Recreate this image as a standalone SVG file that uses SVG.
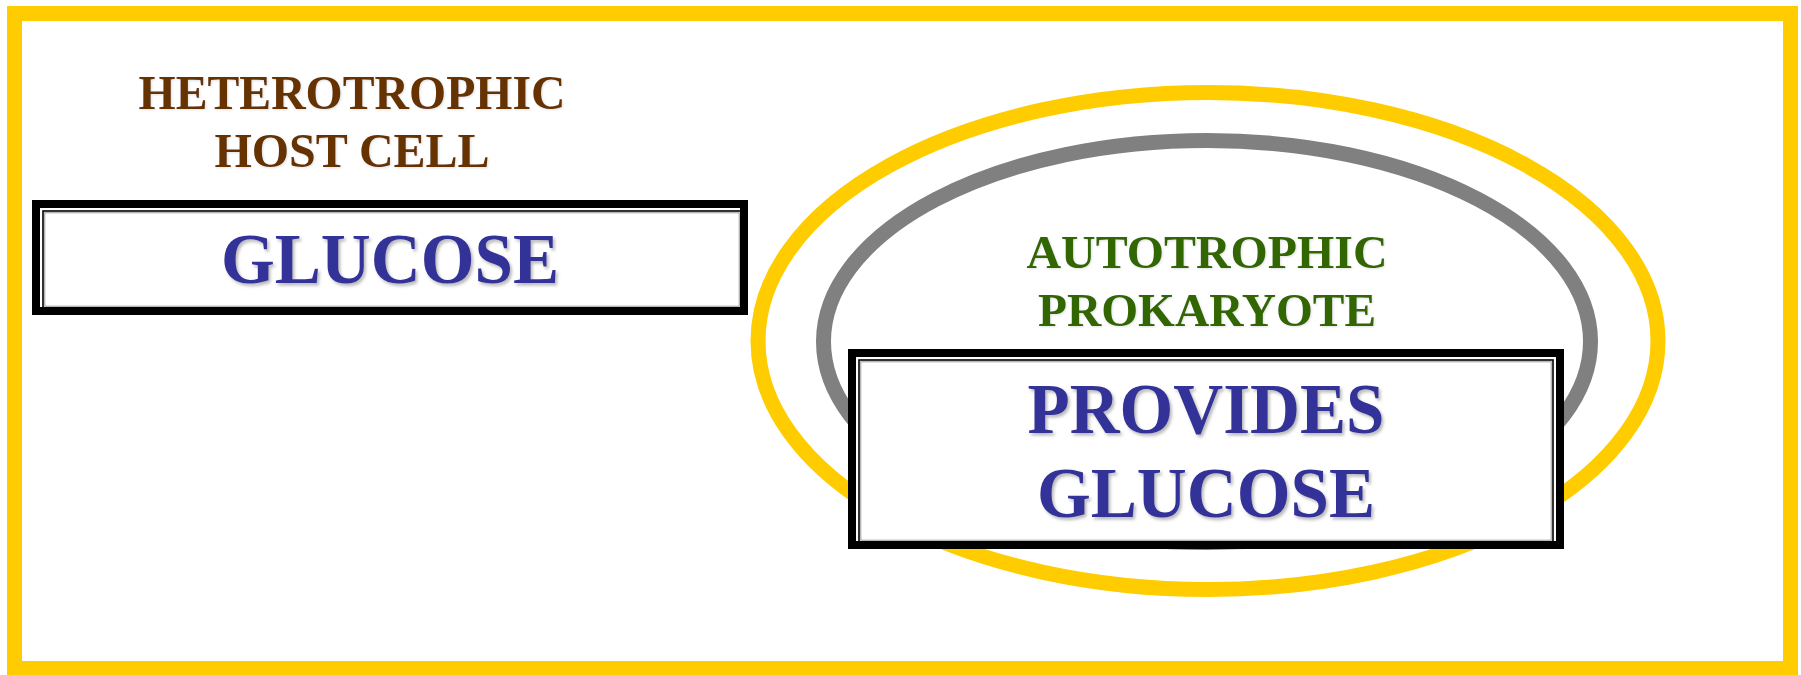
<svg xmlns="http://www.w3.org/2000/svg" width="1801" height="675" viewBox="0 0 1801 675">
<defs>
<filter id="sh" x="-10%" y="-20%" width="120%" height="150%">
<feDropShadow dx="2" dy="2.5" stdDeviation="1.5" flood-color="#808080" flood-opacity="0.55"/>
</filter>
<filter id="sh2" x="-10%" y="-20%" width="120%" height="150%">
<feDropShadow dx="1" dy="1" stdDeviation="1" flood-color="#999999" flood-opacity="0.3"/>
</filter>
</defs>
<style>
.frame{fill:#ffffff;stroke:#FFCC00;stroke-width:15}
.ring-y{fill:none;stroke:#FFCC00;stroke-width:15}
.ring-g{fill:none;stroke:#808080;stroke-width:15}
.thick{fill:#ffffff;stroke:#000000;stroke-width:8}
.thin{fill:none;stroke:#000000;stroke-width:1.6}
.thin2{fill:none;stroke:#999999;stroke-width:1}
.t{font-family:"Liberation Serif","Times New Roman",serif;font-weight:bold;text-anchor:middle}
.brown{fill:#663300;font-size:48px}
.green{fill:#336600;font-size:47px}
.blue{fill:#333399;font-size:72px}
</style>
<rect class="frame" x="14.5" y="13.5" width="1776" height="655"/>

<g id="host-label">
<text class="t brown" x="352" y="109" textLength="427" lengthAdjust="spacingAndGlyphs" filter="url(#sh2)">HETEROTROPHIC</text>
<text class="t brown" x="352" y="167" filter="url(#sh2)">HOST CELL</text>
</g>

<g id="glucose-box">
<rect class="thick" x="36" y="204" width="708" height="107"/>
<rect class="thin" x="43" y="211" width="698" height="97"/>
<rect class="thin2" x="44.8" y="212.8" width="694.4" height="93.4"/>
<text class="t blue" x="390" y="283" textLength="338" lengthAdjust="spacingAndGlyphs" filter="url(#sh)">GLUCOSE</text>
</g>

<g id="prokaryote">
<ellipse class="ring-y" cx="1208" cy="341" rx="450" ry="248.5"/>
<ellipse class="ring-g" cx="1207" cy="341.5" rx="383.5" ry="201"/>
<text class="t green" x="1207" y="268" textLength="361" lengthAdjust="spacingAndGlyphs" filter="url(#sh2)">AUTOTROPHIC</text>
<text class="t green" x="1207" y="326" textLength="338" lengthAdjust="spacingAndGlyphs" filter="url(#sh2)">PROKARYOTE</text>
</g>

<g id="provides-box">
<rect class="thick" x="852" y="353" width="708" height="192"/>
<rect class="thin" x="859" y="360" width="694" height="182"/>
<rect class="thin2" x="860.8" y="361.8" width="690.4" height="178.4"/>
<text class="t blue" x="1206" y="433" textLength="357" lengthAdjust="spacingAndGlyphs" filter="url(#sh)">PROVIDES</text>
<text class="t blue" x="1206" y="517" textLength="338" lengthAdjust="spacingAndGlyphs" filter="url(#sh)">GLUCOSE</text>
</g>

<g id="connectors"></g>
</svg>
